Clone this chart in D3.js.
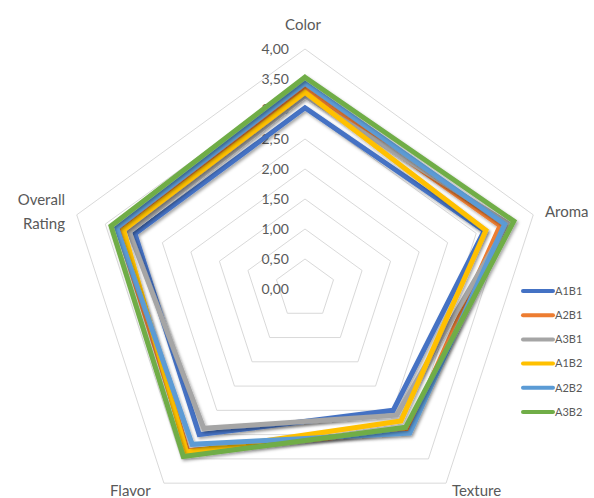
<!DOCTYPE html>
<html>
<head>
<meta charset="utf-8">
<script src="https://cdn.jsdelivr.net/npm/d3@7"></script>
<style>
body { margin: 0; background: #fff; }
text { font-family: Lato, "Open Sans", sans-serif; fill: #595959; }
</style>
</head>
<body>
<svg id="chart" width="594" height="498"></svg>
<script>
var categories = ["Color", "Aroma", "Texture", "Flavor", "Overall Rating"];
var seriesNames = ["A1B1", "A2B1", "A3B1", "A1B2", "A2B2", "A3B2"];
var colors = ["#4472C4", "#ED7D31", "#A5A5A5", "#FFC000", "#5B9BD5", "#70AD47"];
// one array per series, in category order
var a1b1 = [3.02, 3.14, 2.50, 3.00, 2.98];
var a2b1 = [3.35, 3.42, 2.92, 3.33, 3.28];
var a3b1 = [3.22, 3.55, 2.60, 2.87, 3.08];
var a1b2 = [3.28, 3.17, 2.72, 3.36, 3.18];
var a2b2 = [3.43, 3.50, 2.97, 3.20, 3.30];
var a3b2 = [3.53, 3.66, 2.85, 3.45, 3.40];
var ticks = [0, 0.5, 1, 1.5, 2, 2.5, 3, 3.5, 4];

var allSeries = [a1b1, a2b1, a3b1, a1b2, a2b2, a3b2];
var cx = 305, cy = 289;

var svg = d3.select("#chart");

var defs = svg.append("defs");
var f = defs.append("filter").attr("id", "shadow")
    .attr("x", "-10%").attr("y", "-10%").attr("width", "120%").attr("height", "120%");
f.append("feDropShadow")
    .attr("dx", 1.5).attr("dy", 2).attr("stdDeviation", 1.5)
    .attr("flood-color", "#000").attr("flood-opacity", 0.35);

var r = d3.scaleLinear().domain([0, 4]).range([0, 240]);
var angle = d3.scalePoint().domain(categories).range([0, 2 * Math.PI * 4 / 5]);

var g = svg.append("g").attr("transform", "translate(" + cx + "," + cy + ")");

function pt(cat, v) {
    var a = angle(cat);
    return [r(v) * Math.sin(a), -r(v) * Math.cos(a)];
}

// grid pentagons
g.selectAll(".grid")
    .data(ticks.filter(function(t){ return t > 0; }))
    .enter()
    .append("path")
    .attr("class", "grid")
    .attr("d", function(t){
        return d3.line()(categories.map(function(c){ return pt(c, t); })) + "Z";
    })
    .attr("fill", "none")
    .attr("stroke", "#D9D9D9")
    .attr("stroke-width", 1);

// tick labels
g.selectAll(".tick")
    .data(ticks)
    .enter()
    .append("text")
    .attr("x", -16)
    .attr("y", function(d){ return -r(d); })
    .attr("dy", "0.35em")
    .attr("text-anchor", "end")
    .style("font-size", "14px")
    .text(function(d){ return d3.format(".2f")(d).replace(".", ","); });

// series
var lineGen = d3.line();
g.selectAll(".series")
    .data(allSeries)
    .enter()
    .append("path")
    .attr("class", "series")
    .attr("d", function(vals){
        return lineGen(categories.map(function(c, i){ return pt(c, vals[i]); })) + "Z";
    })
    .attr("fill", "none")
    .attr("stroke", function(d, i){ return colors[i]; })
    .attr("stroke-width", 5)
    .attr("stroke-linejoin", "miter")
    .attr("filter", "url(#shadow)");

// category labels
var labelPos = [
    {x: 303, y: 30, anchor: "middle"},
    {x: 545, y: 217, anchor: "start"},
    {x: 452, y: 496, anchor: "start"},
    {x: 110, y: 496, anchor: "start"},
    {x: 65, y: 205, anchor: "end"}
];
categories.forEach(function(c, i){
    var p = labelPos[i];
    var t = svg.append("text")
        .attr("x", p.x)
        .attr("y", p.y)
        .attr("text-anchor", p.anchor)
        .style("font-size", "15px");
    var words = c === "Overall Rating" ? ["Overall", "Rating"] : [c];
    words.forEach(function(w, j){
        t.append("tspan").attr("x", p.x).attr("dy", j ? 24 : 0).text(w);
    });
});

// legend
var leg = svg.selectAll(".leg")
    .data(seriesNames)
    .enter()
    .append("g")
    .attr("class", "leg")
    .attr("transform", function(d, i){ return "translate(523," + (291 + i * 24.2) + ")"; });
leg.append("line")
    .attr("x1", 0).attr("x2", 30)
    .attr("stroke", function(d, i){ return colors[i]; })
    .attr("stroke-width", 4)
    .attr("stroke-linecap", "round");
leg.append("text")
    .attr("x", 32)
    .attr("dy", "0.35em")
    .style("font-size", "11px")
    .text(function(d){ return d; });
</script>
</body>
</html>
